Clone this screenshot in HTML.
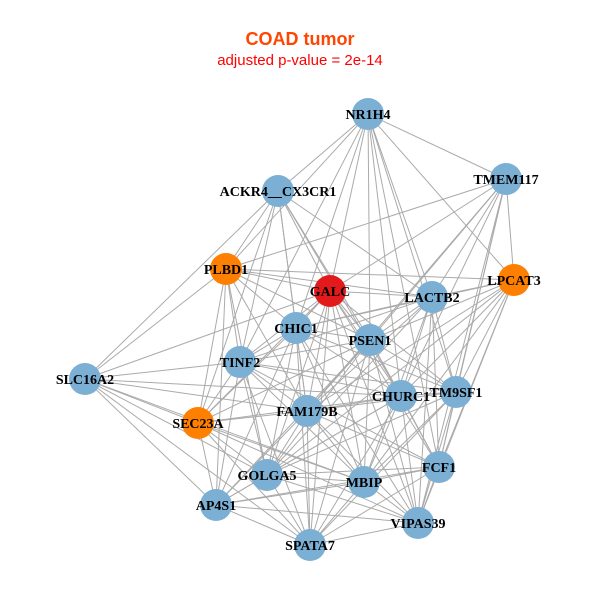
<!DOCTYPE html>
<html><head><meta charset="utf-8"><style>body{margin:0;background:#fff}svg{display:block}</style></head><body>
<svg width="600" height="600" xmlns="http://www.w3.org/2000/svg">
<rect width="600" height="600" fill="#fff"/>
<text x="300" y="45" text-anchor="middle" font-family="Liberation Sans, sans-serif" font-weight="bold" font-size="18" fill="#ff4500">COAD tumor</text>
<text x="300" y="65" text-anchor="middle" font-family="Liberation Sans, sans-serif" font-size="15" fill="#ff0000">adjusted p-value = 2e-14</text>
<g stroke="#aaaaaa" stroke-width="1" id="edges"></g>
<g id="nodes"></g>
<script>
var N={NR1H4:[368,114],TMEM117:[506,179],"ACKR4__CX3CR1":[278,191],PLBD1:[226,269],GALC:[330,291],LPCAT3:[514,280],LACTB2:[432,297],CHIC1:[296,328],PSEN1:[370,340],TINF2:[240,362],SLC16A2:[85,379],CHURC1:[401,396],TM9SF1:[456,392],FAM179B:[307,411],SEC23A:[198,423],FCF1:[439,467],GOLGA5:[267,475],MBIP:[364,482],AP4S1:[216,505],VIPAS39:[418,523],SPATA7:[310,545]};
var col={GALC:"#e31a1c",PLBD1:"#ff7f00",LPCAT3:"#ff7f00",SEC23A:"#ff7f00"};
var E="NR1H4 ACKR4__CX3CR1,NR1H4 TMEM117,NR1H4 PLBD1,NR1H4 GALC,NR1H4 LACTB2,NR1H4 PSEN1,NR1H4 CHURC1,NR1H4 LPCAT3,NR1H4 TM9SF1,NR1H4 CHIC1,NR1H4 TINF2,NR1H4 FCF1,TMEM117 GALC,TMEM117 LACTB2,TMEM117 PSEN1,TMEM117 CHURC1,TMEM117 TM9SF1,TMEM117 FCF1,TMEM117 FAM179B,TMEM117 LPCAT3,TMEM117 PLBD1,TMEM117 VIPAS39,ACKR4__CX3CR1 SLC16A2,ACKR4__CX3CR1 PLBD1,ACKR4__CX3CR1 GALC,ACKR4__CX3CR1 CHIC1,ACKR4__CX3CR1 TINF2,ACKR4__CX3CR1 PSEN1,ACKR4__CX3CR1 LACTB2,ACKR4__CX3CR1 FAM179B,ACKR4__CX3CR1 SEC23A,ACKR4__CX3CR1 CHURC1,PLBD1 GALC,PLBD1 LPCAT3,PLBD1 LACTB2,PLBD1 CHIC1,PLBD1 TINF2,PLBD1 SLC16A2,PLBD1 FAM179B,PLBD1 SEC23A,PLBD1 GOLGA5,PLBD1 AP4S1,PLBD1 PSEN1,GALC LACTB2,GALC CHIC1,GALC PSEN1,GALC TINF2,GALC CHURC1,GALC TM9SF1,GALC FAM179B,GALC MBIP,GALC VIPAS39,GALC FCF1,GALC SEC23A,GALC GOLGA5,GALC SPATA7,GALC SLC16A2,LPCAT3 LACTB2,LPCAT3 PSEN1,LPCAT3 CHURC1,LPCAT3 TM9SF1,LPCAT3 FCF1,LPCAT3 MBIP,LPCAT3 VIPAS39,LPCAT3 FAM179B,LPCAT3 CHIC1,LPCAT3 GOLGA5,LACTB2 CHIC1,LACTB2 PSEN1,LACTB2 CHURC1,LACTB2 TM9SF1,LACTB2 FCF1,LACTB2 MBIP,LACTB2 VIPAS39,LACTB2 FAM179B,LACTB2 TINF2,LACTB2 GOLGA5,CHIC1 PSEN1,CHIC1 TINF2,CHIC1 CHURC1,CHIC1 FAM179B,CHIC1 SEC23A,CHIC1 MBIP,CHIC1 GOLGA5,CHIC1 SPATA7,CHIC1 TM9SF1,CHIC1 VIPAS39,CHIC1 AP4S1,PSEN1 TINF2,PSEN1 CHURC1,PSEN1 TM9SF1,PSEN1 FAM179B,PSEN1 FCF1,PSEN1 MBIP,PSEN1 VIPAS39,PSEN1 GOLGA5,PSEN1 SPATA7,PSEN1 SEC23A,PSEN1 AP4S1,TINF2 SLC16A2,TINF2 FAM179B,TINF2 SEC23A,TINF2 GOLGA5,TINF2 AP4S1,TINF2 SPATA7,TINF2 MBIP,TINF2 CHURC1,TINF2 TM9SF1,TINF2 FCF1,SLC16A2 SEC23A,SLC16A2 FAM179B,SLC16A2 AP4S1,SLC16A2 GOLGA5,SLC16A2 SPATA7,SLC16A2 MBIP,SLC16A2 CHURC1,CHURC1 TM9SF1,CHURC1 FAM179B,CHURC1 FCF1,CHURC1 MBIP,CHURC1 VIPAS39,CHURC1 GOLGA5,CHURC1 SPATA7,CHURC1 SEC23A,CHURC1 AP4S1,TM9SF1 FAM179B,TM9SF1 FCF1,TM9SF1 MBIP,TM9SF1 VIPAS39,TM9SF1 GOLGA5,TM9SF1 SPATA7,FAM179B SEC23A,FAM179B GOLGA5,FAM179B MBIP,FAM179B FCF1,FAM179B VIPAS39,FAM179B AP4S1,FAM179B SPATA7,SEC23A GOLGA5,SEC23A AP4S1,SEC23A SPATA7,SEC23A MBIP,SEC23A VIPAS39,FCF1 MBIP,FCF1 VIPAS39,FCF1 GOLGA5,FCF1 SPATA7,FCF1 AP4S1,GOLGA5 MBIP,GOLGA5 AP4S1,GOLGA5 SPATA7,GOLGA5 VIPAS39,MBIP AP4S1,MBIP VIPAS39,MBIP SPATA7,AP4S1 SPATA7,AP4S1 VIPAS39,VIPAS39 SPATA7".split(",");
var ns="http://www.w3.org/2000/svg",eg=document.getElementById("edges"),ng=document.getElementById("nodes");
E.forEach(function(s){var p=s.split(" "),a=N[p[0]],b=N[p[1]];var l=document.createElementNS(ns,"line");l.setAttribute("x1",a[0]);l.setAttribute("y1",a[1]);l.setAttribute("x2",b[0]);l.setAttribute("y2",b[1]);eg.appendChild(l);});
for(var k in N){var c=document.createElementNS(ns,"circle");c.setAttribute("cx",N[k][0]);c.setAttribute("cy",N[k][1]);c.setAttribute("r",16);c.setAttribute("fill",col[k]||"#7bafd4");ng.appendChild(c);}
for(var k in N){var t=document.createElementNS(ns,"text");t.setAttribute("x",N[k][0]);t.setAttribute("y",N[k][1]+5);t.setAttribute("text-anchor","middle");t.setAttribute("font-family","Liberation Serif, serif");t.setAttribute("font-weight","bold");t.setAttribute("font-size","14");t.textContent=k;ng.appendChild(t);}
</script>
</svg>
</body></html>
